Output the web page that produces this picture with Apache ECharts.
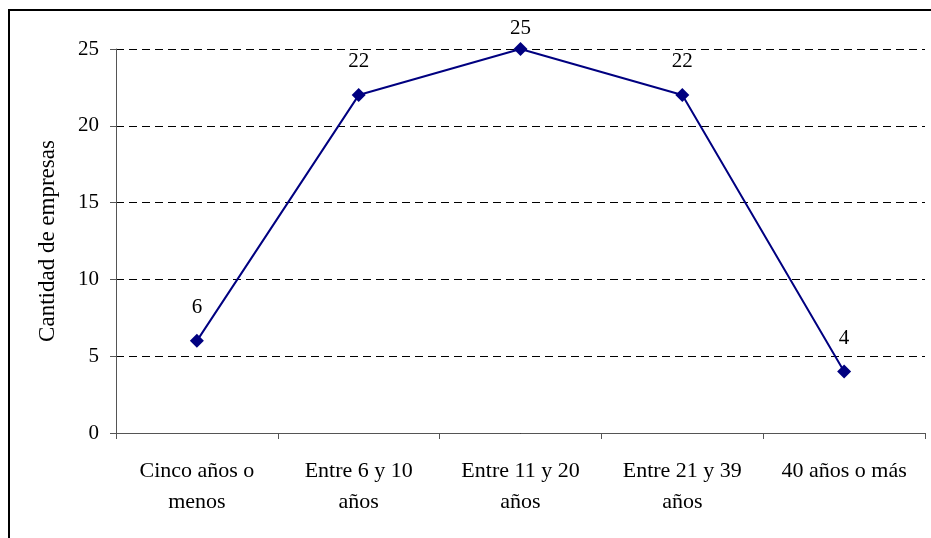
<!DOCTYPE html>
<html>
<head>
<meta charset="utf-8">
<script src="https://cdn.jsdelivr.net/npm/echarts@6/dist/echarts.min.js"></script>
<style>
  html, body { margin: 0; padding: 0; background: #fff; }
  #frame { position: absolute; left: 8px; top: 9px; width: 940px; height: 560px; border: 2px solid #000; box-sizing: border-box; }
  #main { position: absolute; left: 0; top: 0; width: 931px; height: 538px; }
</style>
</head>
<body>
<div id="frame"></div>
<div id="main"></div>
<script>
var categories = ['Cinco años o\nmenos', 'Entre 6 y 10\naños', 'Entre 11 y 20\naños', 'Entre 21 y 39\naños', '40 años o más'];
var empresas = [6, 22, 25, 22, 4];
var yTicks = { min: 0, max: 25, interval: 5 };

var chart = echarts.init(document.getElementById('main'));
var font = 'Liberation Serif, Times New Roman, serif';
var fs = 21;

// the top point's label sits closer to the marker (it would hit the frame otherwise)
var seriesData = empresas.map(function (v) {
  if (v === yTicks.max) return { value: v, label: { distance: 3 } };
  return v;
});

chart.setOption({
  animation: false,
  textStyle: { fontFamily: font },
  grid: { left: 116, right: 6, top: 49, bottom: 105, containLabel: false },
  xAxis: {
    type: 'category',
    data: categories,
    boundaryGap: true,
    axisLine: { lineStyle: { color: '#555', width: 1 } },
    axisTick: { show: true, length: 6, inside: false, lineStyle: { color: '#555' } },
    axisLabel: { color: '#000', fontSize: 22, fontFamily: font, margin: 23, lineHeight: 31, interval: 0 }
  },
  yAxis: {
    type: 'value',
    min: yTicks.min, max: yTicks.max, interval: yTicks.interval,
    name: 'Cantidad de empresas',
    nameLocation: 'middle',
    nameGap: 57,
    nameTextStyle: { color: '#000', fontSize: 23, fontFamily: font },
    axisLine: { show: true, lineStyle: { color: '#555', width: 1 } },
    axisTick: { show: true, length: 6, lineStyle: { color: '#555' } },
    axisLabel: { color: '#000', fontSize: fs, fontFamily: font, margin: 17 },
    splitLine: { show: true, lineStyle: { color: '#000', type: [8, 5], width: 1 } }
  },
  series: [{
    type: 'line',
    data: seriesData,
    symbol: 'diamond',
    symbolSize: 14,
    itemStyle: { color: '#000080' },
    lineStyle: { color: '#000080', width: 2 },
    label: { show: true, position: 'top', distance: 16, color: '#000', fontSize: fs, fontFamily: font }
  }]
});
</script>
</body>
</html>
